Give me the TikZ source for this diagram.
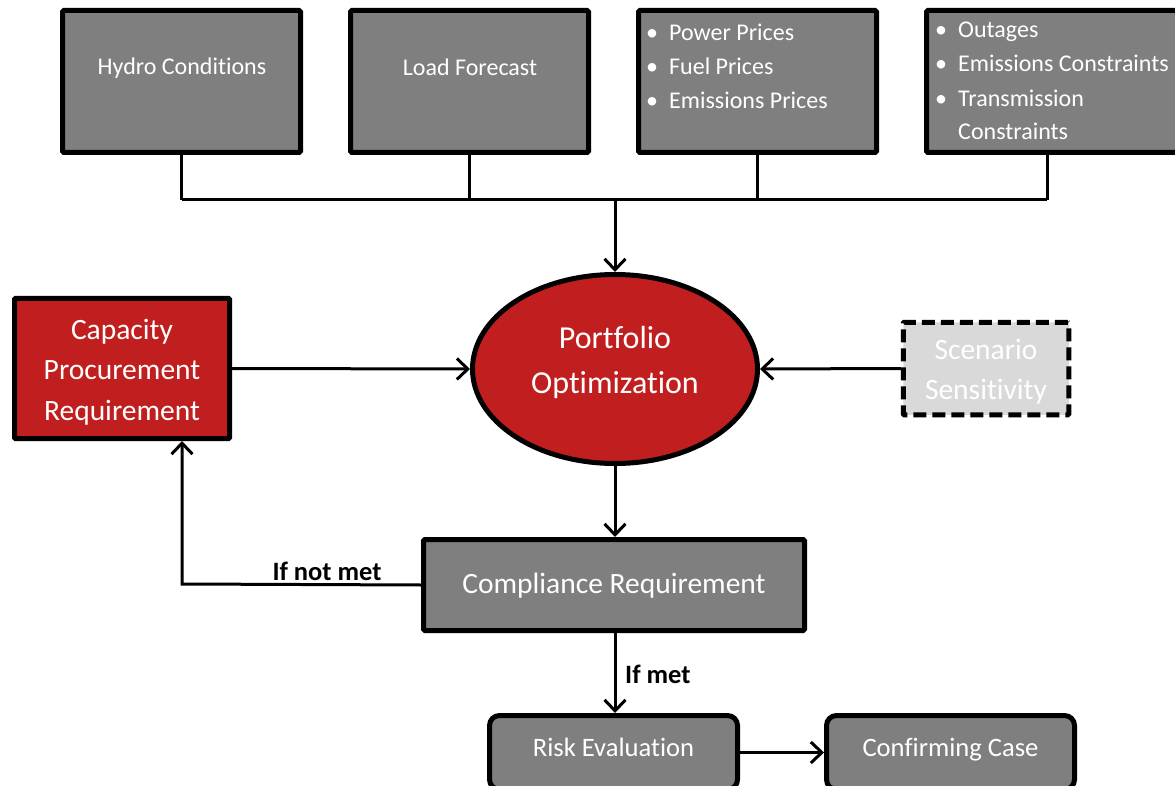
\documentclass[tikz,border=0pt]{standalone}
\usepackage{fontspec}
\setmainfont{Carlito}[Ligatures={NoCommon}]
\usetikzlibrary{arrows.meta,shapes.geometric}
\definecolor{boxgray}{RGB}{127,127,127}
\definecolor{boxred}{RGB}{193,31,31}
\definecolor{lightgray}{RGB}{217,217,217}
\newcommand{\blt}{\makebox[23pt][l]{\textbullet}}
\begin{document}
\begin{tikzpicture}[x=1pt,y=-1pt,
  box/.style={draw=black, line width=5pt, fill=boxgray, rectangle, inner sep=0pt, rounded corners=1.5pt},
  rbox/.style={box, rounded corners=10pt},
  conn/.style={line width=3pt, draw=black},
  arr/.style={conn, -{Straight Barb[length=11pt,width=21pt]}},
  toptxt/.style={text=white, inner sep=0pt, font=\fontsize{24}{34}\selectfont},
  midtxt/.style={text=white, inner sep=0pt, align=center},
  lbl/.style={text=black, inner sep=0pt, font=\bfseries\fontsize{26.5}{30}\selectfont}
]
\useasboundingbox (0,0) rectangle (1175,786);
\clip (0,0) rectangle (1175,786);

% top input boxes
\node[box, minimum width=238pt, minimum height=142pt] (hydro) at (181.5,81.5) {};
\node[box, minimum width=238pt, minimum height=142pt] (load) at (469.5,81.5) {};
\node[box, minimum width=238pt, minimum height=142pt] (prices) at (757.5,81.5) {};
\node[box, minimum width=271pt, minimum height=142pt] (outages) at (1062,81.5) {};

\node[toptxt, anchor=base] (hydrot) at (182,75) {Hydro Conditions};
\node[toptxt, anchor=base] (loadt) at (470,76) {Load Forecast};
\node[toptxt, anchor=base west] (p1) at (646,41) {\blt Power Prices};
\node[toptxt, anchor=base west] (p2) at (646,75) {\blt Fuel Prices};
\node[toptxt, anchor=base west] (p3) at (646,109) {\blt Emissions Prices};
\node[toptxt, anchor=base west] (o1) at (935,38) {\blt Outages};
\node[toptxt, anchor=base west] (o2) at (935,72) {\blt Emissions Constraints};
\node[toptxt, anchor=base west] (o3) at (935,107) {\blt Transmission};
\node[toptxt, anchor=base west] (o4) at (958,140) {Constraints};

% bus
\coordinate (busL) at (182,200);
\coordinate (busR) at (1047,200);
\coordinate (busM) at (615,200);
\draw[conn] (hydro.south) -- (hydro.south |- busL);
\draw[conn] (load.south) -- (load.south |- busL);
\draw[conn] (prices.south) -- (prices.south |- busL);
\draw[conn] (outages.south -| busR) -- (busR);
\draw[conn] (busL) -- (busR);

% middle row
\node[draw=black, line width=5pt, fill=boxred, ellipse, inner sep=0pt,
      minimum width=285pt, minimum height=189pt] (opt) at (615,369) {};
\node[midtxt, font=\fontsize{32}{45}\selectfont] (optt) at (615,362) {Portfolio\\Optimization};

\node[box, fill=boxred, rounded corners=1pt, minimum width=215pt, minimum height=140pt] (cap) at (122,368.5) {};
\node[midtxt, font=\fontsize{29.5}{40.5}\selectfont] (capt) at (122,372) {Capacity\\Procurement\\Requirement};

\node[box, fill=lightgray, dash pattern=on 13pt off 6pt, rounded corners=1pt,
      minimum width=165.5pt, minimum height=92.5pt] (scen) at (986,368.5) {};
\node[midtxt, font=\fontsize{29.5}{40}\selectfont] (scent) at (986,372) {Scenario\\Sensitivity};

\draw[arr] (busM) -- (opt.north);
\draw[arr] (cap.east) -- (opt.west);
\draw[arr] (scen.west) -- (opt.east);

% compliance
\node[box, minimum width=381pt, minimum height=91pt] (comp) at (614,585) {};
\node[midtxt, font=\fontsize{29.5}{34}\selectfont, anchor=base] (compt) at (614,593) {Compliance Requirement};
\draw[arr] (opt.south) -- (opt.south |- comp.north);

\coordinate (nm) at (182,584);
\draw[arr] (comp.west) -- (nm) -- (nm |- cap.south);
\node[lbl, anchor=base] (ifnot) at (327,580) {If not met};

% bottom row
\node[rbox, minimum width=248pt, minimum height=74pt] (risk) at (613.5,752.5) {};
\node[midtxt, font=\fontsize{26.6}{30}\selectfont, anchor=base] (riskt) at (613.5,756) {Risk Evaluation};
\node[rbox, minimum width=248pt, minimum height=74pt] (conf) at (950.5,752.5) {};
\node[midtxt, font=\fontsize{26.6}{30}\selectfont, anchor=base] (conft) at (950.5,756) {Confirming Case};

\draw[arr] (comp.south -| busM) -- (busM |- risk.north);
\node[lbl, anchor=base west] (ifmet) at (625,683) {If met};
\draw[arr] (risk.east) -- (conf.west);
\end{tikzpicture}
\end{document}
